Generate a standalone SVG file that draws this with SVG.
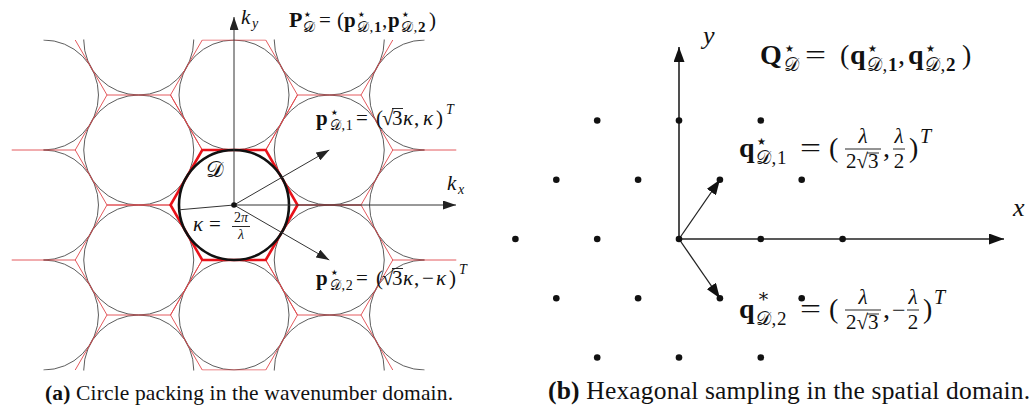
<svg xmlns="http://www.w3.org/2000/svg" xmlns:xlink="http://www.w3.org/1999/xlink" width="1032" height="412" viewBox="0 0 1032 412">
<style>
.cir{fill:none;stroke:#4a4a4a;stroke-width:0.9}
.cirb{fill:none;stroke:#111;stroke-width:2.6}
.hex{fill:none;stroke:#e0474c;stroke-width:0.9}
.hexb{fill:none;stroke:#e8121a;stroke-width:2.6}
.axL{stroke:#333;stroke-width:1;fill:none}
.axR{stroke:#222;stroke-width:1.6;fill:none}
.vec{stroke:#222;stroke-width:1.3;fill:none}
.dot{fill:#111}
.t{font-family:"Liberation Serif","DejaVu Serif",serif;fill:#111}
.i{font-style:italic}
.bd{font-weight:bold}
.st{font-family:"DejaVu Sans",sans-serif;fill:#111}
.fr{stroke:#111;stroke-width:0.9}
.sb{letter-spacing:0.6px}
</style>
<defs>
<marker id="arL" markerUnits="userSpaceOnUse" markerWidth="13" markerHeight="9" refX="13" refY="4.5" orient="auto"><path d="M0,0 L13,4.5 L0,9 Z" fill="#222"/></marker>
<marker id="arR" markerUnits="userSpaceOnUse" markerWidth="15" markerHeight="11" refX="15" refY="5.5" orient="auto"><path d="M0,0 L15,5.5 L0,11 Z" fill="#111"/></marker>
<polygon id="hx" points="63.51,0 31.75,55 -31.75,55 -63.51,0 -31.75,-55 31.75,-55"/>
<clipPath id="cc"><rect x="43.47" y="39.5" width="381.06" height="331"/></clipPath>
<clipPath id="rc"><rect x="0" y="39.5" width="480" height="331"/></clipPath>
</defs>

<g id="panel-a">
<g id="circles" clip-path="url(#cc)">
<circle class="cir" cx="43.47" cy="95" r="55"/>
<circle class="cir" cx="43.47" cy="205" r="55"/>
<circle class="cir" cx="43.47" cy="315" r="55"/>
<circle class="cir" cx="138.74" cy="40" r="55"/>
<circle class="cir" cx="138.74" cy="150" r="55"/>
<circle class="cir" cx="138.74" cy="260" r="55"/>
<circle class="cir" cx="138.74" cy="370" r="55"/>
<circle class="cir" cx="234" cy="95" r="55"/>
<circle class="cir" cx="234" cy="315" r="55"/>
<circle class="cir" cx="329.26" cy="40" r="55"/>
<circle class="cir" cx="329.26" cy="150" r="55"/>
<circle class="cir" cx="329.26" cy="260" r="55"/>
<circle class="cir" cx="329.26" cy="370" r="55"/>
<circle class="cir" cx="424.53" cy="95" r="55"/>
<circle class="cir" cx="424.53" cy="205" r="55"/>
<circle class="cir" cx="424.53" cy="315" r="55"/>
</g>
<g id="cells" clip-path="url(#rc)">
<use href="#hx" class="hex" x="234" y="95"/>
<use href="#hx" class="hex" x="234" y="315"/>
<use href="#hx" class="hex" x="138.74" y="150"/>
<use href="#hx" class="hex" x="138.74" y="260"/>
<use href="#hx" class="hex" x="329.26" y="150"/>
<use href="#hx" class="hex" x="329.26" y="260"/>
<path class="hex" d="M11.72,150H75.22 M11.72,260H75.22 M392.78,150H456.28 M392.78,260H456.28 M75.22,40L106.99,95 M392.78,40L361.01,95 M75.22,370L106.99,315 M392.78,370L361.01,315"/>
</g>
<g id="domain-D">
<use href="#hx" class="hexb" x="234" y="205"/>
<circle class="cirb" cx="234" cy="205" r="55"/>
</g>
<g id="connectors-a">
<line class="axL" x1="234" y1="205" x2="234" y2="17" marker-end="url(#arL)"/>
<line class="axL" x1="234" y1="205" x2="456" y2="205" marker-end="url(#arL)"/>
<line class="axL" x1="234" y1="205" x2="329.26" y2="150" marker-end="url(#arL)"/>
<line class="axL" x1="234" y1="205" x2="329.26" y2="260" marker-end="url(#arL)"/>
<line class="axL" x1="234" y1="205" x2="179.2" y2="209.8"/>
</g>
<circle class="dot" cx="234" cy="205" r="2.8"/>
<g id="labels-a">
<text class="t i" x="241" y="24" font-size="21">k</text><text class="t i" x="252" y="28" font-size="14">y</text>
<text class="t i" x="447" y="190" font-size="21">k</text><text class="t i" x="458" y="194" font-size="14">x</text>
<text class="t" x="206" y="177" font-size="22">𝒟</text>

<text class="t bd" x="289" y="27" font-size="22">P</text>
<text class="st" x="304" y="17" font-size="7.5">★</text>
<text class="t" x="303" y="32" font-size="15">𝒟</text>
<text class="t" x="319" y="27" font-size="21">=</text>
<text class="t" x="337" y="27" font-size="21">(</text>
<text class="t bd" x="344" y="27" font-size="21">p</text>
<text class="st" x="358" y="17" font-size="7.5">★</text>
<text class="t sb" x="357" y="32" font-size="15">𝒟,<tspan class="bd">1</tspan></text>
<text class="t" x="382" y="27" font-size="21">,</text>
<text class="t bd" x="388" y="27" font-size="21">p</text>
<text class="st" x="402" y="17" font-size="7.5">★</text>
<text class="t sb" x="401" y="32" font-size="15">𝒟,<tspan class="bd">2</tspan></text>
<text class="t" x="429" y="27" font-size="21">)</text>

<text class="t bd" x="316" y="125" font-size="21">p</text>
<text class="st" x="331" y="115" font-size="7.5">★</text>
<text class="t sb" x="330" y="130" font-size="14">𝒟,1</text>
<text class="t" x="356" y="125" font-size="21">=</text>
<text class="t" x="376" y="125" font-size="21">(</text>
<text class="t" x="382" y="125" font-size="21">√</text>
<line class="fr" x1="392" y1="108.5" x2="403" y2="108.5"/>
<text class="t" x="392" y="125" font-size="21">3</text>
<text class="t i" x="403" y="125" font-size="21">κ</text>
<text class="t" x="414" y="125" font-size="21">,</text>
<text class="t i" x="423" y="125" font-size="21">κ</text>
<text class="t" x="436" y="125" font-size="21">)</text>
<text class="t i" x="446" y="114" font-size="14">T</text>

<text class="t bd" x="316" y="285" font-size="21">p</text>
<text class="st" x="331" y="275" font-size="7.5">★</text>
<text class="t sb" x="330" y="290" font-size="14">𝒟,2</text>
<text class="t" x="356" y="285" font-size="21">=</text>
<text class="t" x="376" y="285" font-size="21">(</text>
<text class="t" x="382" y="285" font-size="21">√</text>
<line class="fr" x1="392" y1="268.5" x2="403" y2="268.5"/>
<text class="t" x="392" y="285" font-size="21">3</text>
<text class="t i" x="403" y="285" font-size="21">κ</text>
<text class="t" x="414" y="285" font-size="21">,</text>
<text class="t" x="422" y="285" font-size="21">−</text>
<text class="t i" x="436" y="285" font-size="21">κ</text>
<text class="t" x="449" y="285" font-size="21">)</text>
<text class="t i" x="459" y="274" font-size="14">T</text>

<text class="t i" x="193" y="231" font-size="21">κ</text>
<text class="t" x="209" y="231" font-size="21">=</text>
<text class="t" x="241" y="222" font-size="14" text-anchor="middle">2<tspan class="i">π</tspan></text>
<line class="fr" x1="232" y1="226.5" x2="250" y2="226.5"/>
<text class="t i" x="241" y="239" font-size="14" text-anchor="middle">λ</text>
</g>
<text class="t" x="45" y="400" font-size="21.5" textLength="408" lengthAdjust="spacing"><tspan class="bd">(a)</tspan> Circle packing in the wavenumber domain.</text>
</g>

<g id="panel-b">
<g id="connectors-b">
<line class="axR" x1="679" y1="239" x2="679" y2="47" marker-end="url(#arR)"/>
<line class="axR" x1="679" y1="239" x2="1004" y2="239" marker-end="url(#arR)"/>
<line class="vec" x1="679" y1="239" x2="719.9" y2="179.75" marker-end="url(#arR)"/>
<line class="vec" x1="679" y1="239" x2="719.9" y2="298.25" marker-end="url(#arR)"/>
</g>
<g id="samples">
<circle class="dot" cx="597.2" cy="120.5" r="3.3"/>
<circle class="dot" cx="679" cy="120.5" r="3.3"/>
<circle class="dot" cx="760.8" cy="120.5" r="3.3"/>
<circle class="dot" cx="556.3" cy="179.75" r="3.3"/>
<circle class="dot" cx="638.1" cy="179.75" r="3.3"/>
<circle class="dot" cx="719.9" cy="179.75" r="3.3"/>
<circle class="dot" cx="801.7" cy="179.75" r="3.3"/>
<circle class="dot" cx="515.4" cy="239" r="3.3"/>
<circle class="dot" cx="597.2" cy="239" r="3.3"/>
<circle class="dot" cx="679" cy="239" r="3.3"/>
<circle class="dot" cx="760.8" cy="239" r="3.3"/>
<circle class="dot" cx="842.6" cy="239" r="3.3"/>
<circle class="dot" cx="556.3" cy="298.25" r="3.3"/>
<circle class="dot" cx="638.1" cy="298.25" r="3.3"/>
<circle class="dot" cx="719.9" cy="298.25" r="3.3"/>
<circle class="dot" cx="801.7" cy="298.25" r="3.3"/>
<circle class="dot" cx="597.2" cy="357.5" r="3.3"/>
<circle class="dot" cx="679" cy="357.5" r="3.3"/>
<circle class="dot" cx="760.8" cy="357.5" r="3.3"/>
</g>
<g id="labels-b">
<text class="t i" x="703" y="44" font-size="26">y</text>
<text class="t i" x="1013" y="216" font-size="26">x</text>

<text class="t bd" x="760" y="64" font-size="28">Q</text>
<text class="st" x="785" y="52" font-size="10">★</text>
<text class="t" x="784" y="71" font-size="19">𝒟</text>
<text class="t" x="805" y="64" font-size="28" textLength="21" lengthAdjust="spacingAndGlyphs">=</text>
<text class="t" x="840" y="64" font-size="28">(</text>
<text class="t bd" x="850" y="64" font-size="28">q</text>
<text class="st" x="868" y="52" font-size="10">★</text>
<text class="t sb" x="867" y="71" font-size="19">𝒟,<tspan class="bd">1</tspan></text>
<text class="t" x="898" y="64" font-size="28">,</text>
<text class="t bd" x="908" y="64" font-size="28">q</text>
<text class="st" x="926" y="52" font-size="10">★</text>
<text class="t sb" x="925" y="71" font-size="19">𝒟,<tspan class="bd">2</tspan></text>
<text class="t" x="962" y="64" font-size="28">)</text>

<text class="t bd" x="739" y="157" font-size="28">q</text>
<text class="st" x="757" y="145" font-size="10">★</text>
<text class="t sb" x="756" y="164" font-size="19">𝒟,1</text>
<text class="t" x="800" y="157" font-size="28" textLength="21" lengthAdjust="spacingAndGlyphs">=</text>
<text class="t" x="829" y="157" font-size="28">(</text>
<text class="t i" x="863" y="143" font-size="21" text-anchor="middle">λ</text>
<line class="fr" x1="845" y1="149" x2="881" y2="149"/>
<text class="t" x="846" y="168" font-size="21">2√3</text>
<line class="fr" x1="867" y1="153" x2="879" y2="153"/>
<text class="t" x="883" y="157" font-size="28">,</text>
<text class="t i" x="899" y="143" font-size="21" text-anchor="middle">λ</text>
<line class="fr" x1="893" y1="149" x2="905" y2="149"/>
<text class="t" x="899" y="168" font-size="21" text-anchor="middle">2</text>
<text class="t" x="909" y="157" font-size="28">)</text>
<text class="t i" x="920" y="143" font-size="20">T</text>

<text class="t bd" x="739" y="318" font-size="28">q</text>
<text class="t" x="757" y="302" font-size="19">∗</text>
<text class="t sb" x="756" y="325" font-size="19">𝒟,2</text>
<text class="t" x="800" y="318" font-size="28" textLength="21" lengthAdjust="spacingAndGlyphs">=</text>
<text class="t" x="829" y="318" font-size="28">(</text>
<text class="t i" x="863" y="304" font-size="21" text-anchor="middle">λ</text>
<line class="fr" x1="845" y1="310" x2="881" y2="310"/>
<text class="t" x="846" y="329" font-size="21">2√3</text>
<line class="fr" x1="867" y1="314" x2="879" y2="314"/>
<text class="t" x="883" y="318" font-size="28">,</text>
<text class="t" x="892" y="318" font-size="24">−</text>
<text class="t i" x="913" y="304" font-size="21" text-anchor="middle">λ</text>
<line class="fr" x1="907" y1="310" x2="919" y2="310"/>
<text class="t" x="913" y="329" font-size="21" text-anchor="middle">2</text>
<text class="t" x="923" y="318" font-size="28">)</text>
<text class="t i" x="934" y="304" font-size="20">T</text>
</g>
<text class="t" x="548" y="399" font-size="25.5" textLength="482" lengthAdjust="spacing"><tspan class="bd">(b)</tspan> Hexagonal sampling in the spatial domain.</text>
</g>
</svg>
